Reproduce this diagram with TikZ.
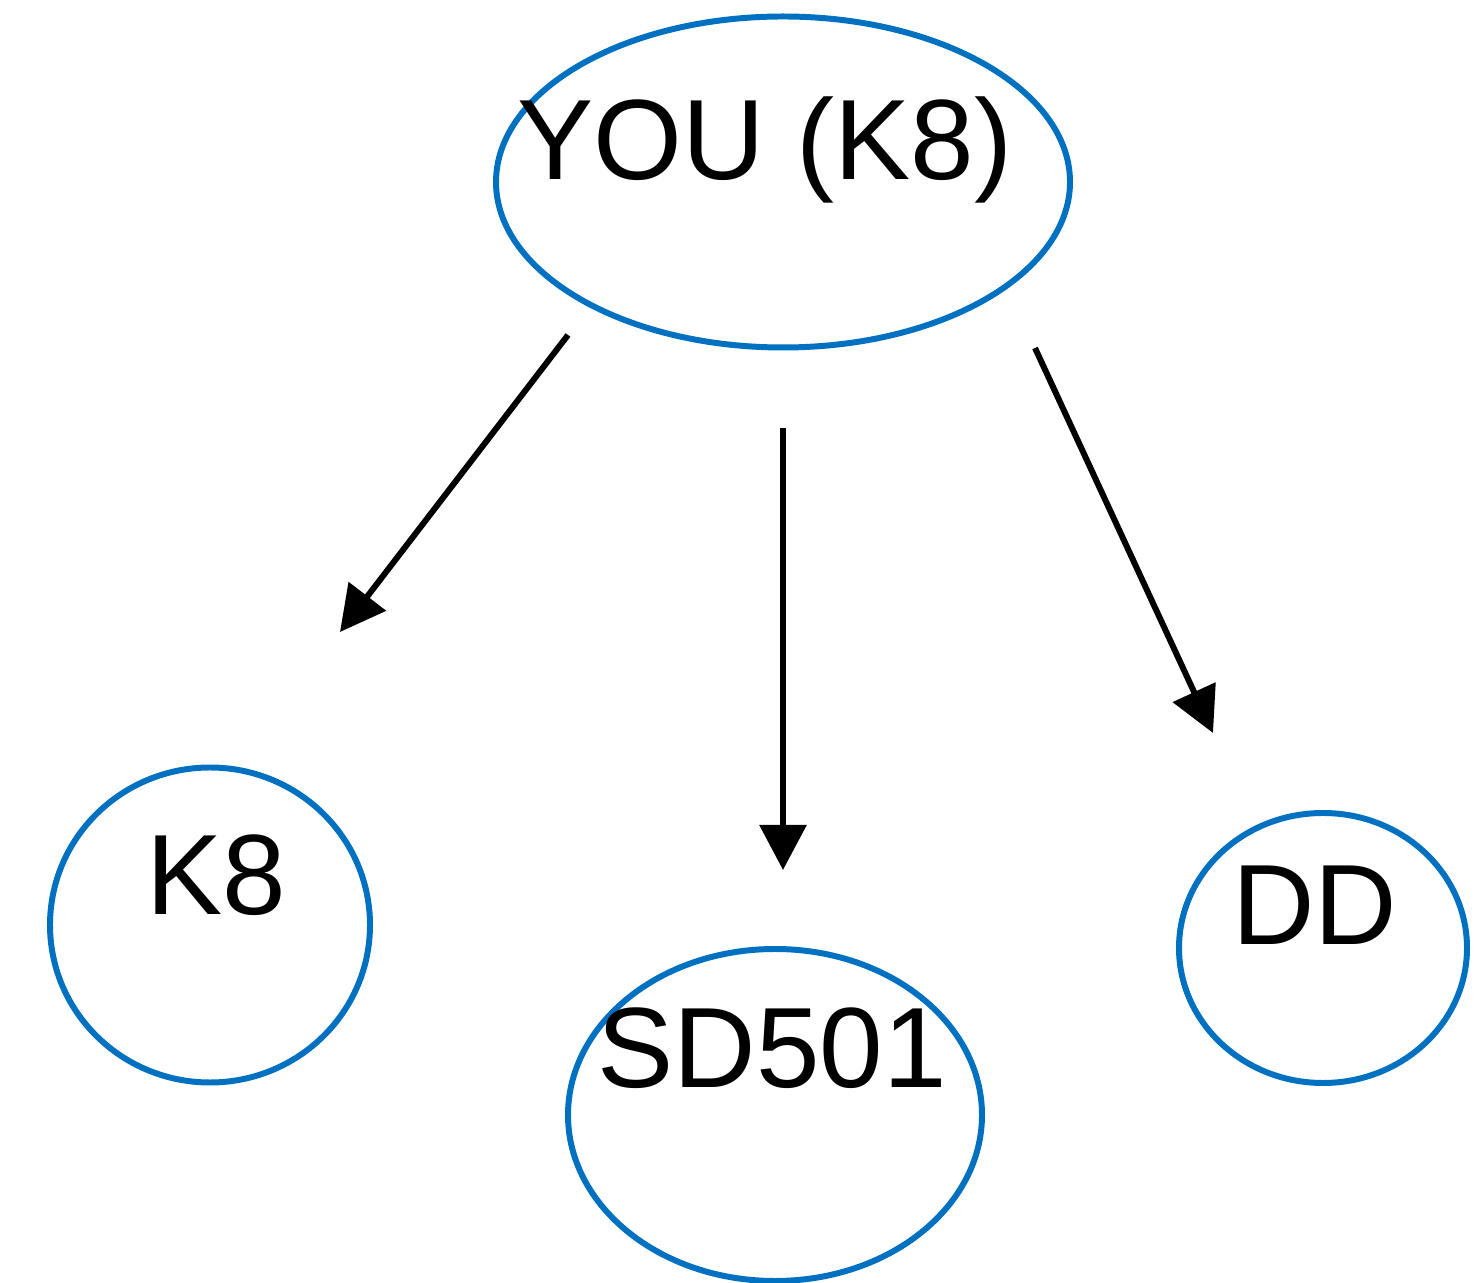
\documentclass[tikz,border=0pt]{standalone}
\usepackage{fontspec}
\setmainfont{Liberation Sans}
\usetikzlibrary{arrows.meta,shapes.geometric}
\definecolor{nodeblue}{RGB}{0,112,192}
\tikzset{
  bubble/.style={draw=nodeblue, line width=1.7pt, ellipse, inner sep=0pt},
  bubbletext/.style={anchor=base, font=\fontsize{32.5}{38}\selectfont},
  arr/.style={-{Triangle[length=4.5mm, width=4.6mm]}, line width=1.7pt}
}
\begin{document}
\begin{tikzpicture}
    \useasboundingbox (0,0) rectangle (14.81,-12.83);
    % nodes
    \node[bubble, minimum width=5.74cm, minimum height=3.31cm] (you) at (7.83,-1.82) {};
    \node[bubble, minimum width=3.20cm, minimum height=3.15cm] (k8) at (2.10,-9.25) {};
    \node[bubble, minimum width=4.14cm, minimum height=3.32cm] (sd) at (7.75,-11.15) {};
    \node[bubble, minimum width=2.88cm, minimum height=2.70cm] (dd) at (13.23,-9.48) {};
    \node[bubbletext] (youtxt) at (7.65,-1.80) {YOU (K8)};
    \node[bubbletext] (k8txt) at (2.16,-9.15) {K8};
    \node[bubbletext] (sdtxt) at (7.72,-10.88) {SD501};
    \node[bubbletext] (ddtxt) at (13.15,-9.45) {DD};
    % arrow ends
    \coordinate (youa) at (5.68,-3.35);
    \coordinate (youb) at (7.83,-4.28);
    \coordinate (youc) at (10.35,-3.48);
    \coordinate (k8in) at (3.40,-6.32);
    \coordinate (sdin) at (7.83,-8.70);
    \coordinate (ddin) at (12.13,-7.33);
    \draw[arr] (youa) -- (k8in);
    \draw[arr] (youb) -- (sdin);
    \draw[arr] (youc) -- (ddin);
\end{tikzpicture}
\end{document}
